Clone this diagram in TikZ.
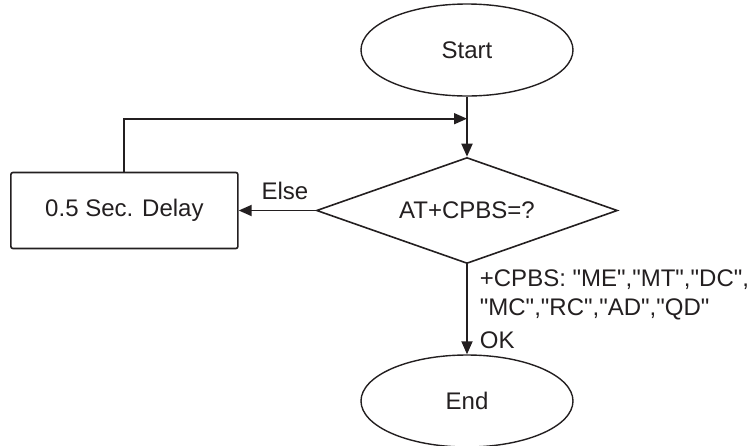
\documentclass[tikz,border=0pt]{standalone}
\usepackage{tikz}
\usetikzlibrary{arrows.meta,positioning,shapes.geometric}
\usepackage{xcolor}
\usepackage{fontspec}
\setmainfont{Liberation Sans}[Ligatures=TeXOff]
\definecolor{InkGray}{RGB}{35,31,32}
\tikzset{
  terminal/.style={draw=InkGray,ellipse,line width=0.7pt,inner sep=0pt,
    minimum width=106pt,minimum height=46pt,align=center},
  delaybox/.style={draw=InkGray,rectangle,rounded corners=1pt,line width=0.8pt,
    minimum width=113.5pt,minimum height=38pt,align=center},
  decision/.style={draw=InkGray,diamond,aspect=2.84,inner sep=0pt,line width=0.8pt,
    minimum width=150.5pt,minimum height=53pt,align=center},
  flowarrow/.style={-{Triangle[length=6.5pt,width=5.5pt]},
    line width=0.9pt,draw=InkGray},
}

\begin{document}
\begin{tikzpicture}[node distance=30pt,font=\fontsize{12}{14.5}\selectfont,text=InkGray]
  \useasboundingbox (-233.5pt,25pt) rectangle (144pt,-197.5pt);
  \node[terminal] (start) at (0,0) {Start};
  \node[decision,below=30pt of start] (check) {AT+CPBS=?};
  \node[delaybox,left=38.5pt of check] (delay) {0.5 Sec. Delay};
  \node[terminal,below=45pt of check] (end) {End};
  \coordinate[below=11pt of start] (join);
  \draw[flowarrow] (start) -- (check);
  \draw[flowarrow] (delay.north) |- (join);
  \draw[flowarrow] (check.west) -- node[pos=0.4,above,inner sep=5pt]{Else} (delay.east);
  \draw[flowarrow] (check.south) -- node[right,align=left,inner xsep=6pt]
    {+CPBS: "ME","MT","DC",\\"MC","RC","AD","QD"\\[2pt]OK} (end.north);
\end{tikzpicture}
\end{document}
